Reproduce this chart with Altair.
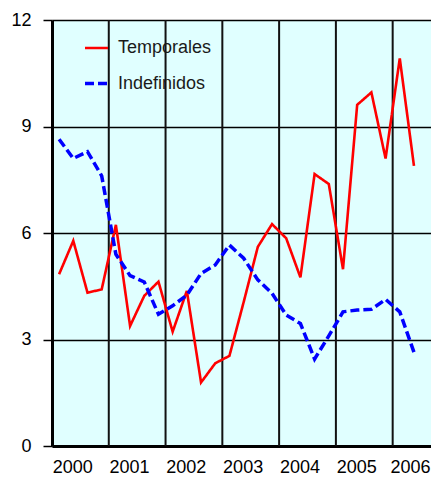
import altair as alt
import pandas as pd

years = ["2000", "2001", "2002", "2003", "2004", "2005", "2006"]
series_names = ["Temporales", "Indefinidos"]
temporales = [4.84, 5.78, 4.32, 4.41, 6.23, 3.38, 4.23, 4.63, 3.22, 4.37, 1.79, 2.33, 2.54,
              4.05, 5.61, 6.25, 5.85, 4.75, 7.66, 7.38, 4.98, 9.61, 9.96, 8.10, 10.92, 7.89]
indefinidos = [8.64, 8.10, 8.29, 7.61, 5.40, 4.80, 4.62, 3.71, 3.95, 4.25, 4.86, 5.10, 5.66,
               5.29, 4.68, 4.30, 3.69, 3.45, 2.45, 3.10, 3.78, 3.83, 3.85, 4.13, 3.78, 2.64]
y_ticks = [0, 3, 6, 9, 12]

rows = []
for i, (a, b) in enumerate(zip(temporales, indefinidos)):
    rows.append({"t": i + 0.5, "serie": "Temporales", "v": a})
    rows.append({"t": i + 0.5, "serie": "Indefinidos", "v": b})
df = pd.DataFrame(rows)
bounds = pd.DataFrame({"t": [4 * k for k in range(1, len(years))]})

label_pos = [4 * k + 1.5 for k in range(len(years))]
label_expr = "[" + ",".join("'%s'" % y for y in years) + "][floor(datum.value/4)]"

xscale = alt.Scale(domain=[0, 26.7], nice=False, zero=False)
yscale = alt.Scale(domain=[0, 12], nice=False)

x_axis = alt.Axis(values=label_pos, labelExpr=label_expr, grid=False, ticks=False,
                  domainColor="black", domainWidth=3, labelFontSize=18,
                  labelPadding=12, labelColor="#000000", labelOverlap=False,
                  labelOffset={"condition": {"test": "datum.value > 24", "value": -4}, "value": -1})

vgrid = alt.Chart(bounds).mark_rule(color="#111111", strokeWidth=2).encode(
    x=alt.X("t:Q", scale=xscale, title=None, axis=x_axis)
)

leg = alt.Legend(title=None, orient="none", legendX=31, legendY=15,
                 symbolType="stroke", symbolSize=529, symbolStrokeWidth=3,
                 labelFontSize=18, labelOffset=8, rowPadding=13,
                 labelColor="#1a1a1a", padding=0)

lines = alt.Chart(df).mark_line(clip=True).encode(
    x=alt.X("t:Q", scale=xscale, title=None, axis=x_axis),
    y=alt.Y("v:Q", scale=yscale, title=None,
            axis=alt.Axis(values=y_ticks, grid=True, gridColor="black", gridWidth=1.5,
                          tickSize=9, tickColor="black", tickWidth=1.5,
                          domainColor="black", domainWidth=3, labelFontSize=18,
                          labelPadding=12, labelColor="#000000")),
    color=alt.Color("serie:N", scale=alt.Scale(domain=series_names, range=["#FF0000", "#0000FF"]),
                    legend=leg),
    strokeDash=alt.StrokeDash("serie:N", scale=alt.Scale(domain=series_names, range=[[1, 0], [9, 4]]),
                              legend=leg),
    strokeWidth=alt.StrokeWidth("serie:N", scale=alt.Scale(domain=series_names, range=[2.6, 3.5]),
                                legend=None),
)

chart = alt.layer(vgrid, lines).properties(
    width=379, height=426,
    autosize=alt.AutoSizeParams(type="none"),
    padding={"left": 44, "top": 12, "right": 0, "bottom": 34},
).configure(font="Liberation Sans").configure_view(fill="#E0FFFF", stroke="transparent")

chart.save("out.html", embed_options={"renderer": "svg", "actions": False})
